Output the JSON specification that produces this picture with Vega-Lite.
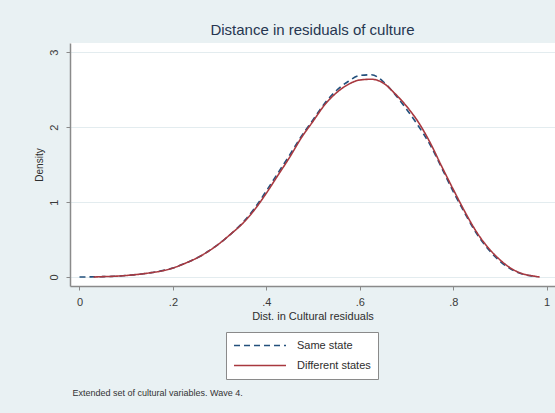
{
  "$schema": "https://vega.github.io/schema/vega-lite/v6.json",
  "width": 485,
  "height": 243,
  "autosize": {"type": "none"},
  "padding": {"left": 70, "top": 43, "right": 0, "bottom": 127},
  "background": "#e9f1f3",
  "config": {
    "view": {"fill": "white", "stroke": null},
    "font": "Liberation Sans",
    "axis": {
      "domainColor": "#8a8a8a",
      "domainWidth": 1.5,
      "tickColor": "#8a8a8a",
      "tickWidth": 1,
      "tickSize": 4,
      "labelColor": "#3a3a3a",
      "titleColor": "#2e2e2e",
      "labelFont": "Liberation Sans",
      "titleFont": "Liberation Sans",
      "titleFontWeight": "normal"
    }
  },
  "title": {
    "text": "Distance in residuals of culture",
    "fontSize": 15,
    "fontWeight": "normal",
    "font": "Liberation Sans",
    "color": "#263650",
    "anchor": "middle",
    "frame": "group",
    "offset": -7,
    "baseline": "alphabetic"
  },
  "datasets": {
    "same": [
      {"x": 0.0, "density": 0.0, "series": "Same state"},
      {"x": 0.025, "density": 0.002, "series": "Same state"},
      {"x": 0.05, "density": 0.005, "series": "Same state"},
      {"x": 0.075, "density": 0.01, "series": "Same state"},
      {"x": 0.1, "density": 0.02, "series": "Same state"},
      {"x": 0.125, "density": 0.035, "series": "Same state"},
      {"x": 0.15, "density": 0.055, "series": "Same state"},
      {"x": 0.175, "density": 0.082, "series": "Same state"},
      {"x": 0.2, "density": 0.12, "series": "Same state"},
      {"x": 0.225, "density": 0.18, "series": "Same state"},
      {"x": 0.25, "density": 0.25, "series": "Same state"},
      {"x": 0.275, "density": 0.34, "series": "Same state"},
      {"x": 0.3, "density": 0.45, "series": "Same state"},
      {"x": 0.325, "density": 0.58, "series": "Same state"},
      {"x": 0.35, "density": 0.73, "series": "Same state"},
      {"x": 0.375, "density": 0.92, "series": "Same state"},
      {"x": 0.4, "density": 1.15, "series": "Same state"},
      {"x": 0.425, "density": 1.39, "series": "Same state"},
      {"x": 0.45, "density": 1.63, "series": "Same state"},
      {"x": 0.475, "density": 1.88, "series": "Same state"},
      {"x": 0.5, "density": 2.1, "series": "Same state"},
      {"x": 0.525, "density": 2.32, "series": "Same state"},
      {"x": 0.55, "density": 2.49, "series": "Same state"},
      {"x": 0.575, "density": 2.61, "series": "Same state"},
      {"x": 0.6, "density": 2.69, "series": "Same state"},
      {"x": 0.625, "density": 2.7, "series": "Same state"},
      {"x": 0.65, "density": 2.61, "series": "Same state"},
      {"x": 0.675, "density": 2.44, "series": "Same state"},
      {"x": 0.7, "density": 2.24, "series": "Same state"},
      {"x": 0.725, "density": 2.02, "series": "Same state"},
      {"x": 0.75, "density": 1.77, "series": "Same state"},
      {"x": 0.775, "density": 1.46, "series": "Same state"},
      {"x": 0.8, "density": 1.14, "series": "Same state"},
      {"x": 0.825, "density": 0.85, "series": "Same state"},
      {"x": 0.85, "density": 0.58, "series": "Same state"},
      {"x": 0.875, "density": 0.37, "series": "Same state"},
      {"x": 0.9, "density": 0.21, "series": "Same state"},
      {"x": 0.925, "density": 0.1, "series": "Same state"},
      {"x": 0.95, "density": 0.035, "series": "Same state"},
      {"x": 0.975, "density": 0.008, "series": "Same state"},
      {"x": 0.98, "density": 0.003, "series": "Same state"}
    ],
    "diff": [
      {"x": 0.03, "density": 0.0, "series": "Different states"},
      {"x": 0.05, "density": 0.005, "series": "Different states"},
      {"x": 0.075, "density": 0.01, "series": "Different states"},
      {"x": 0.1, "density": 0.02, "series": "Different states"},
      {"x": 0.125, "density": 0.035, "series": "Different states"},
      {"x": 0.15, "density": 0.055, "series": "Different states"},
      {"x": 0.175, "density": 0.08, "series": "Different states"},
      {"x": 0.2, "density": 0.12, "series": "Different states"},
      {"x": 0.225, "density": 0.18, "series": "Different states"},
      {"x": 0.25, "density": 0.25, "series": "Different states"},
      {"x": 0.275, "density": 0.34, "series": "Different states"},
      {"x": 0.3, "density": 0.45, "series": "Different states"},
      {"x": 0.325, "density": 0.58, "series": "Different states"},
      {"x": 0.35, "density": 0.72, "series": "Different states"},
      {"x": 0.375, "density": 0.9, "series": "Different states"},
      {"x": 0.4, "density": 1.12, "series": "Different states"},
      {"x": 0.425, "density": 1.36, "series": "Different states"},
      {"x": 0.45, "density": 1.6, "series": "Different states"},
      {"x": 0.475, "density": 1.86, "series": "Different states"},
      {"x": 0.5, "density": 2.08, "series": "Different states"},
      {"x": 0.525, "density": 2.3, "series": "Different states"},
      {"x": 0.55, "density": 2.46, "series": "Different states"},
      {"x": 0.575, "density": 2.57, "series": "Different states"},
      {"x": 0.6, "density": 2.63, "series": "Different states"},
      {"x": 0.625, "density": 2.64, "series": "Different states"},
      {"x": 0.65, "density": 2.59, "series": "Different states"},
      {"x": 0.675, "density": 2.45, "series": "Different states"},
      {"x": 0.7, "density": 2.28, "series": "Different states"},
      {"x": 0.725, "density": 2.07, "series": "Different states"},
      {"x": 0.75, "density": 1.8, "series": "Different states"},
      {"x": 0.775, "density": 1.48, "series": "Different states"},
      {"x": 0.8, "density": 1.17, "series": "Different states"},
      {"x": 0.825, "density": 0.87, "series": "Different states"},
      {"x": 0.85, "density": 0.6, "series": "Different states"},
      {"x": 0.875, "density": 0.39, "series": "Different states"},
      {"x": 0.9, "density": 0.23, "series": "Different states"},
      {"x": 0.925, "density": 0.11, "series": "Different states"},
      {"x": 0.95, "density": 0.04, "series": "Different states"},
      {"x": 0.975, "density": 0.01, "series": "Different states"},
      {"x": 0.985, "density": 0.0, "series": "Different states"}
    ]
  },
  "encoding": {
    "y": {
      "field": "density",
      "type": "quantitative",
      "scale": {"domain": [-0.12, 3.124], "nice": false, "zero": false},
      "axis": {
        "values": [0, 1, 2, 3],
        "title": "Density",
        "titleFontSize": 10,
        "titlePadding": 4,
        "labelFontSize": 11,
        "labelAngle": 270,
        "labelAlign": "center",
        "labelBaseline": "alphabetic",
        "labelPadding": 9,
        "grid": true,
        "gridColor": "#e3ecef",
        "gridWidth": 1
      }
    },
    "color": {
      "field": "series",
      "type": "nominal",
      "scale": {"domain": ["Same state", "Different states"], "range": ["#23507c", "#a8383f"]},
      "legend": {
        "orient": "none",
        "legendX": 156,
        "legendY": 289,
        "title": null,
        "direction": "vertical",
        "fillColor": "white",
        "strokeColor": "#8a8a8a",
        "padding": 7,
        "symbolType": "stroke",
        "symbolSize": 2700,
        "symbolStrokeWidth": 1.6,
        "clipHeight": 13,
        "labelFontSize": 11,
        "labelColor": "#2e2e2e",
        "labelOffset": 10,
        "rowPadding": 7
      }
    },
    "strokeDash": {
      "field": "series",
      "type": "nominal",
      "scale": {"domain": ["Same state", "Different states"], "range": [[6, 4], [1, 0]]},
      "legend": {
        "orient": "none",
        "legendX": 156,
        "legendY": 289,
        "title": null,
        "direction": "vertical",
        "fillColor": "white",
        "strokeColor": "#8a8a8a",
        "padding": 7,
        "symbolType": "stroke",
        "symbolSize": 2700,
        "symbolStrokeWidth": 1.6,
        "clipHeight": 13,
        "labelFontSize": 11,
        "labelColor": "#2e2e2e",
        "labelOffset": 10,
        "rowPadding": 7
      }
    }
  },
  "layer": [
    {
      "data": {"name": "same"},
      "mark": {"type": "line", "strokeWidth": 1.6, "interpolate": "monotone"},
      "encoding": {
        "x": {
          "field": "x",
          "type": "quantitative",
          "scale": {"domain": [-0.0203, 1.0178], "nice": false, "zero": false},
          "axis": {
            "orient": "bottom",
            "values": [0, 0.2, 0.4, 0.6, 0.8, 1],
            "labelExpr": "datum.value == 0 ? '0' : datum.value == 1 ? '1' : replace(format(datum.value, '.1f'), '0.', '.')",
            "labelFontSize": 11,
            "labelPadding": 6,
            "title": "Dist. in Cultural residuals",
            "titleFontSize": 11,
            "titlePadding": 3,
            "grid": false
          }
        }
      }
    },
    {
      "data": {"name": "diff"},
      "mark": {"type": "line", "strokeWidth": 1.6, "interpolate": "monotone"},
      "encoding": {
        "x": {
          "field": "x",
          "type": "quantitative",
          "scale": {"domain": [-0.0203, 1.0178], "nice": false, "zero": false},
          "axis": {
            "orient": "bottom",
            "offset": 0,
            "labels": false,
            "ticks": false,
            "domain": false,
            "grid": false,
            "title": "Extended set of cultural variables. Wave 4.",
            "titleFontSize": 9,
            "titleColor": "#333333",
            "titleAnchor": "start",
            "titleAlign": "left",
            "titleBaseline": "middle",
            "titleX": 2,
            "titleY": 106
          }
        }
      }
    }
  ],
  "resolve": {"axis": {"x": "independent"}}
}
